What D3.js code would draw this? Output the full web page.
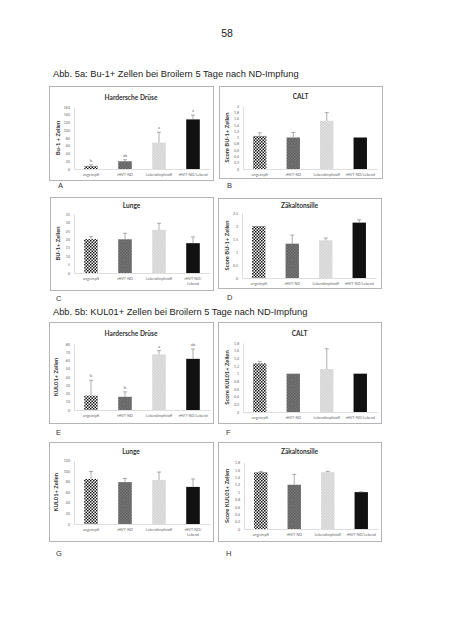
<!DOCTYPE html>
<html><head><meta charset="utf-8">
<script src="https://cdn.jsdelivr.net/npm/d3@7"></script>
<style>html,body{margin:0;padding:0;background:#fff;}svg{display:block;}</style>
</head><body>
<script>
// ---------- DATA ----------
const categories = ["ungeimpft", "rHVT-ND", "Lebendimpfstoff", "rHVT-ND/Lebend"];
const labelsSplit = [["ungeimpft"], ["rHVT-ND"], ["Lebendimpfstoff"], ["rHVT-ND/", "Lebend"]];
const labelsOne = [["ungeimpft"], ["rHVT-ND"], ["Lebendimpfstoff"], ["rHVT-ND/Lebend"]];

const valuesA = [8, 20, 68, 128];      const errA = [3, 4, 27, 11];   const lettersA = ["b", "ab", "a", "a"];
const valuesB = [1.05, 1.0, 1.53, 1.0]; const errB = [0.1, 0.16, 0.26, 0];
const valuesC = [20.1, 20, 25.6, 17.7]; const errC = [1.5, 3.6, 3.9, 3.7];
const valuesD = [2.0, 1.32, 1.45, 2.13]; const errD = [0, 0.33, 0.09, 0.11];
const valuesE = [17.4, 16, 67.5, 62];   const errE = [18.6, 6, 4.5, 12]; const lettersE = ["b", "b", "a", "ab"];
const valuesF = [1.27, 1.0, 1.12, 1.0]; const errF = [0.05, 0, 0.53, 0];
const valuesG = [85, 79, 83, 70];       const errG = [14, 7, 15, 15];
const valuesH = [1.54, 1.2, 1.54, 1.0]; const errH = [0.02, 0.28, 0.02, 0.01];

const ticksA = [0, 20, 40, 60, 80, 100, 120, 140, 160];
const ticksB = [0, 0.2, 0.4, 0.6, 0.8, 1, 1.2, 1.4, 1.6, 1.8, 2];
const ticksC = [0, 5, 10, 15, 20, 25, 30, 35];
const ticksD = [0, 0.5, 1, 1.5, 2, 2.5];
const ticksE = [0, 10, 20, 30, 40, 50, 60, 70, 80];
const ticksF = [0, 0.2, 0.4, 0.6, 0.8, 1, 1.2, 1.4, 1.6, 1.8];
const ticksG = [0, 20, 40, 60, 80, 100, 120];
const ticksH = [0, 0.2, 0.4, 0.6, 0.8, 1, 1.2, 1.4, 1.6, 1.8];

const pageNumber = "58";
const heading5a = "Abb. 5a: Bu-1+ Zellen bei Broilern 5 Tage nach ND-Impfung";
const heading5b = "Abb. 5b: KUL01+ Zellen bei Broilern 5 Tage nach ND-Impfung";

// ---------- LAYOUT ----------
const charts = [
  {tag:"A", title:"Hardersche Drüse", ylab:"Bu-1 + Zellen", vals:valuesA, err:errA, letters:lettersA, ticks:ticksA, labels:labelsOne,
   box:[49,86,213,180], tdy:14, x:[74,210], y:[169,107], ylx:60, tagPos:[58,188]},
  {tag:"B", title:"CALT", ylab:"Score BU-1+ Zellen", vals:valuesB, err:errB, ticks:ticksB, labels:labelsOne,
   box:[219,86,382,178], tdy:13, x:[243,377], y:[169,106], ylx:229, tagPos:[227,188]},
  {tag:"C", title:"Lunge", ylab:"BU-1+ Zellen", vals:valuesC, err:errC, ticks:ticksC, labels:labelsSplit,
   box:[50,197,213,290], tdy:11, x:[74,210], y:[273,214], ylx:60, tagPos:[56,301]},
  {tag:"D", title:"Zäkaltonsille", ylab:"Score BU-1+ Zellen", vals:valuesD, err:errD, ticks:ticksD, labels:labelsOne,
   box:[218,198,381,288], tdy:10, x:[242,376], y:[278,213], ylx:229, tagPos:[227,300]},
  {tag:"E", title:"Hardersche Drüse", ylab:"KUL01+ Zellen", vals:valuesE, err:errE, letters:lettersE, ticks:ticksE, labels:labelsOne,
   box:[49,322,213,423], tdy:14, x:[74,210], y:[410,344], ylx:58, tagPos:[56,435]},
  {tag:"F", title:"CALT", ylab:"Score KUL01+ Zellen", vals:valuesF, err:errF, ticks:ticksF, labels:labelsOne,
   box:[218,322,381,423], tdy:14, x:[243,377], y:[412,343], ylx:229, tagPos:[226,435]},
  {tag:"G", title:"Lunge", ylab:"KUL01+ Zellen", vals:valuesG, err:errG, ticks:ticksG, labels:labelsSplit,
   box:[49,442,213,541], tdy:12, x:[74,210], y:[524,460.4], ylx:58, tagPos:[56,556]},
  {tag:"H", title:"Zäkaltonsille", ylab:"Score KUL01+ Zellen", vals:valuesH, err:errH, ticks:ticksH, labels:labelsOne,
   box:[218,442,381,541], tdy:12, x:[244,378], y:[529,462.6], ylx:229, tagPos:[226,556]}
];

const svg = d3.select("body").append("svg").attr("width", 453).attr("height", 640);
svg.append("rect").attr("width", 453).attr("height", 640).attr("fill", "#fff");

// patterns
const defs = svg.append("defs");
function checker(id, bg, fg) {
  const p = defs.append("pattern").attr("id", id).attr("patternUnits","userSpaceOnUse").attr("width",3).attr("height",3);
  p.append("rect").attr("width",3).attr("height",3).attr("fill",bg);
  p.append("rect").attr("width",1.5).attr("height",1.5).attr("fill",fg);
  p.append("rect").attr("x",1.5).attr("y",1.5).attr("width",1.5).attr("height",1.5).attr("fill",fg);
}
checker("checker", "#fff", "#111");
checker("darkhatch", "#7a7a7a", "#5e5e5e");
checker("lighthatch", "#e2e2e2", "#d2d2d2");
const fills = ["url(#checker)", "url(#darkhatch)", "url(#lighthatch)", "#111"];

// page texts
const PF = "Liberation Sans, Arial, sans-serif";
svg.append("text").attr("x", 227).attr("y", 37).attr("text-anchor","middle")
  .attr("font-family", PF).attr("font-size", 10.5).attr("fill","#222").text(pageNumber);
svg.append("text").attr("x", 53).attr("y", 77)
  .attr("font-family", PF).attr("font-size", 9.3).attr("fill","#222").text(heading5a);
svg.append("text").attr("x", 53).attr("y", 315)
  .attr("font-family", PF).attr("font-size", 9.3).attr("fill","#222").text(heading5b);

const F = "Lato, 'Open Sans', sans-serif";

charts.forEach(c => {
  const g = svg.append("g");
  const [bx0, by0, bx1, by1] = c.box;
  g.append("rect").attr("x", bx0 + 0.5).attr("y", by0 + 0.5).attr("width", bx1 - bx0).attr("height", by1 - by0)
    .attr("fill", "#fff").attr("stroke", "#b5b5b5").attr("stroke-width", 1);
  g.append("text").attr("x", (bx0 + bx1) / 2).attr("y", by0 + c.tdy).attr("text-anchor", "middle")
    .attr("font-family", F).attr("font-weight", "bold").attr("font-size", 6.6).attr("fill", "#333").text(c.title);

  const x = d3.scaleBand().domain(categories).range(c.x).paddingInner(0.6).paddingOuter(0.3);
  const yMax = c.ticks[c.ticks.length - 1];
  const y = d3.scaleLinear().domain([0, yMax]).range(c.y);

  // y axis
  const yAxis = d3.axisLeft(y).tickValues(c.ticks).tickSize(0).tickPadding(4)
    .tickFormat(d => d3.format("~g")(d).replace(".", ","));
  const ya = g.append("g").attr("transform", `translate(${c.x[0]},0)`).call(yAxis);
  ya.select(".domain").attr("stroke", "#d0d0d0").attr("stroke-width", 0.7);
  ya.selectAll("text").attr("font-family", F).attr("font-size", 3.6).attr("fill", "#666");

  // x axis
  const xa = g.append("g").attr("transform", `translate(0,${c.y[0]})`)
    .call(d3.axisBottom(x).tickSize(0).tickFormat(""));
  xa.select(".domain").attr("stroke", "#d0d0d0").attr("stroke-width", 0.7);
  categories.forEach((cat, i) => {
    const t = g.append("text").attr("x", x(cat) + x.bandwidth() / 2).attr("y", c.y[0] + 7)
      .attr("text-anchor", "middle").attr("font-family", F).attr("font-size", 3.7).attr("fill", "#666");
    c.labels[i].forEach((ln, j) => t.append("tspan").attr("x", x(cat) + x.bandwidth() / 2).attr("dy", j ? 5 : 0).text(ln));
  });

  // bars
  g.selectAll(".bar").data(c.vals).enter().append("rect")
    .attr("x", (d, i) => x(categories[i])).attr("width", x.bandwidth())
    .attr("y", d => y(d)).attr("height", d => y(0) - y(d))
    .attr("fill", (d, i) => fills[i]);

  // error bars
  c.vals.forEach((v, i) => {
    if (c.err[i] <= 0) return;
    const cx = x(categories[i]) + x.bandwidth() / 2;
    g.append("line").attr("x1", cx).attr("x2", cx).attr("y1", y(v)).attr("y2", y(v + c.err[i]))
      .attr("stroke", "#8a8a8a").attr("stroke-width", 0.7);
    g.append("line").attr("x1", cx - 2).attr("x2", cx + 2).attr("y1", y(v + c.err[i])).attr("y2", y(v + c.err[i]))
      .attr("stroke", "#8a8a8a").attr("stroke-width", 0.7);
  });

  // letters
  if (c.letters) {
    c.vals.forEach((v, i) => {
      const cx = x(categories[i]) + x.bandwidth() / 2;
      g.append("text").attr("x", cx).attr("y", y(v + c.err[i]) - 3).attr("text-anchor", "middle")
        .attr("font-family", F).attr("font-size", 4.2).attr("fill", "#666").text(c.letters[i]);
    });
  }

  // y label
  g.append("text").attr("transform", `translate(${c.ylx},${(c.y[0] + c.y[1]) / 2}) rotate(-90)`)
    .attr("text-anchor", "middle").attr("font-family", F).attr("font-weight", "bold").attr("font-size", 5.8)
    .attr("fill", "#333").text(c.ylab);

  // panel tag
  svg.append("text").attr("x", c.tagPos[0]).attr("y", c.tagPos[1])
    .attr("font-family", PF).attr("font-size", 7.5).attr("fill", "#333").text(c.tag);
});
</script>
</body></html>
